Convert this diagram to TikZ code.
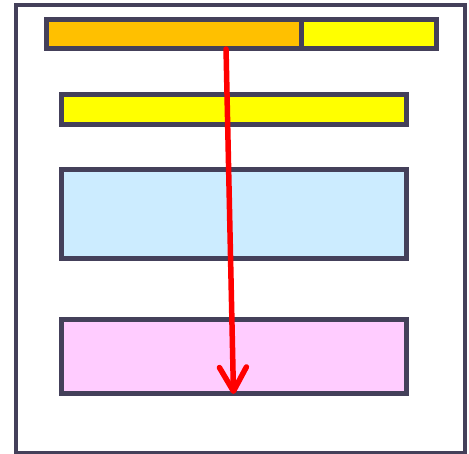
\documentclass[tikz,border=0pt]{standalone}
\usetikzlibrary{arrows.meta,calc}
\definecolor{edge}{HTML}{44405A}
\definecolor{orangefill}{HTML}{FFC000}
\definecolor{yellowfill}{HTML}{FFFF00}
\definecolor{bluefill}{HTML}{CCECFF}
\definecolor{pinkfill}{HTML}{FFCCFF}
\definecolor{arrowred}{HTML}{FF0000}
\tikzset{
  blockbox/.style={draw=edge, line width=5pt, rectangle, inner sep=0pt, outer sep=0pt, anchor=north west},
  flowarrow/.style={draw=arrowred, line width=5.5pt, line cap=round,
    -{Straight Barb[length=24pt, width=27pt, line cap=round, line join=round]}}
}
\begin{document}
\begin{tikzpicture}[x=1pt, y=-1pt]
\useasboundingbox (0,0) rectangle (469,454);
\node[draw=edge, line width=4.5pt, rectangle, inner sep=0pt, outer sep=0pt, anchor=north west,
  minimum width=449pt, minimum height=448pt] (frame) at (16,5) {};
\node[blockbox, fill=orangefill, minimum width=255pt, minimum height=29.5pt] (orange) at (46,19.5) {};
\node[blockbox, fill=yellowfill, minimum width=135pt, minimum height=29.5pt] (topyellow) at (301,19.5) {};
\node[blockbox, fill=yellowfill, minimum width=345pt, minimum height=30.5pt] (yellow) at (61,94.5) {};
\node[blockbox, fill=bluefill, minimum width=345pt, minimum height=89pt] (blue) at (61,170) {};
\node[blockbox, fill=pinkfill, minimum width=345pt, minimum height=74pt] (pink) at (61,320) {};
\coordinate (start) at ($(orange.south west)!0.706!(orange.south east)$);
\draw[flowarrow] (start) -- (pink.south);
\end{tikzpicture}
\end{document}
